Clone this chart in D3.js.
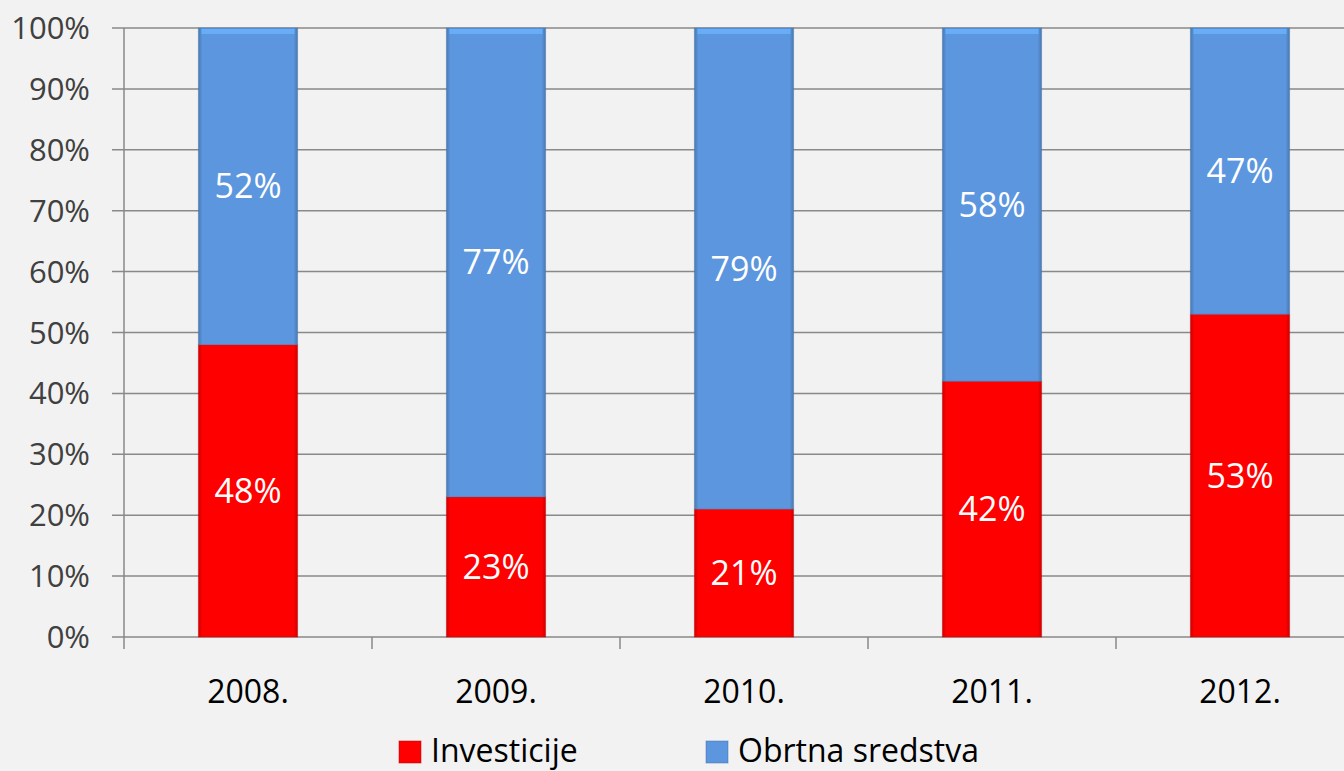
<!DOCTYPE html>
<html>
<head>
<meta charset="utf-8">
<script src="https://cdn.jsdelivr.net/npm/d3@7"></script>
<style>
  html, body { margin: 0; padding: 0; background: #f2f2f2; }
  svg { display: block; font-family: "Open Sans", "Noto Sans", sans-serif; }
</style>
</head>
<body>
<svg id="chart" width="1344" height="771"></svg>
<script>
const years = ["2008.", "2009.", "2010.", "2011.", "2012."];
const investicije = [48, 23, 21, 42, 53];
const obrtnaSredstva = [52, 77, 79, 58, 47];
const yTicks = [0, 10, 20, 30, 40, 50, 60, 70, 80, 90, 100];
const seriesNames = ["Investicije", "Obrtna sredstva"];

const W = 1344, H = 771;
const margin = { left: 124, top: 28, bottom: 134 };
const RED = "#ff0000";
const BLUE = "#5b96de";

const svg = d3.select("#chart");
svg.append("rect").attr("width", W).attr("height", H).attr("fill", "#f2f2f2");

const defs = svg.append("defs");
function bevel(id, base) {
  const c = d3.color(base);
  const g = defs.append("linearGradient").attr("id", id).attr("x1", 0).attr("x2", 1).attr("y1", 0).attr("y2", 0);
  g.append("stop").attr("offset", "0%").attr("stop-color", c.darker(0.6));
  g.append("stop").attr("offset", "4%").attr("stop-color", base);
  g.append("stop").attr("offset", "96%").attr("stop-color", base);
  g.append("stop").attr("offset", "100%").attr("stop-color", c.darker(0.6));
}
bevel("gRed", RED);
bevel("gBlue", BLUE);

const x = d3.scaleBand().domain(years).range([margin.left, margin.left + 248 * 5]).paddingInner(0.6).paddingOuter(0.3);
const y = d3.scaleLinear().domain([0, 100]).range([H - margin.bottom, margin.top]);

// gridlines
svg.append("g")
  .selectAll("line")
  .data(yTicks)
  .join("line")
  .attr("x1", margin.left - 12)
  .attr("x2", W)
  .attr("y1", d => y(d))
  .attr("y2", d => y(d))
  .attr("stroke", "#898989")
  .attr("stroke-width", 1.5);

// y axis line
svg.append("line")
  .attr("x1", margin.left).attr("x2", margin.left)
  .attr("y1", y(100)).attr("y2", y(0) + 12)
  .attr("stroke", "#898989").attr("stroke-width", 1.5);

// category ticks
svg.append("g")
  .selectAll("line")
  .data(d3.range(1, 6))
  .join("line")
  .attr("x1", i => margin.left + i * 248)
  .attr("x2", i => margin.left + i * 248)
  .attr("y1", y(0))
  .attr("y2", y(0) + 12)
  .attr("stroke", "#898989").attr("stroke-width", 1.5);

// y tick labels
svg.append("g")
  .selectAll("text")
  .data(yTicks)
  .join("text")
  .attr("x", 90)
  .attr("y", d => y(d) + 11)
  .attr("text-anchor", "end")
  .attr("font-size", 31)
  .attr("fill", "#404040")
  .text(d => d + "%");

// x labels
svg.append("g")
  .selectAll("text")
  .data(years)
  .join("text")
  .attr("x", d => x(d) + x.bandwidth() / 2)
  .attr("y", 703)
  .attr("text-anchor", "middle")
  .attr("font-size", 32)
  .attr("fill", "#000")
  .text(d => d);

// stacked data
const rows = years.map((yr, i) => ({ year: yr, inv: investicije[i], obr: obrtnaSredstva[i] }));
const segs = [];
rows.forEach(r => {
  segs.push({ year: r.year, y0: 0, y1: r.inv, v: r.inv, fill: "url(#gRed)", base: RED });
  segs.push({ year: r.year, y0: r.inv, y1: r.inv + r.obr, v: r.obr, fill: "url(#gBlue)", base: BLUE });
});

const bars = svg.append("g");
bars.selectAll("rect.seg")
  .data(segs)
  .join("rect")
  .attr("class", "seg")
  .attr("x", d => x(d.year))
  .attr("width", x.bandwidth())
  .attr("y", d => y(d.y1))
  .attr("height", d => y(d.y0) - y(d.y1))
  .attr("fill", d => d.fill)
  .attr("stroke", d => d3.color(d.base).darker(0.8))
  .attr("stroke-opacity", 0.45)
  .attr("stroke-width", 1);

// top highlight strip
bars.selectAll("rect.hl")
  .data(segs)
  .join("rect")
  .attr("class", "hl")
  .attr("x", d => x(d.year) + 3)
  .attr("width", x.bandwidth() - 6)
  .attr("y", d => y(d.y1) + 1)
  .attr("height", 5)
  .attr("fill", d => d3.color(d.base).brighter(0.5))
  .attr("opacity", 0.8);

// value labels
bars.selectAll("text")
  .data(segs)
  .join("text")
  .attr("x", d => x(d.year) + x.bandwidth() / 2)
  .attr("y", d => y((d.y0 + d.y1) / 2) + 12)
  .attr("text-anchor", "middle")
  .attr("font-size", 34)
  .attr("fill", "#fff")
  .text(d => d.v + "%");

// legend
const legendItems = [
  { name: seriesNames[0], color: RED, x: 399 },
  { name: seriesNames[1], color: BLUE, x: 706 }
];
const lg = svg.append("g").selectAll("g").data(legendItems).join("g")
  .attr("transform", d => `translate(${d.x},741)`);
lg.append("rect").attr("width", 22).attr("height", 22)
  .attr("fill", d => d.color)
  .attr("stroke", d => d3.color(d.color).darker(0.8)).attr("stroke-opacity", 0.5);
lg.append("text").attr("x", 32).attr("y", 21)
  .attr("font-size", 32).attr("fill", "#000")
  .text(d => d.name);
</script>
</body>
</html>
